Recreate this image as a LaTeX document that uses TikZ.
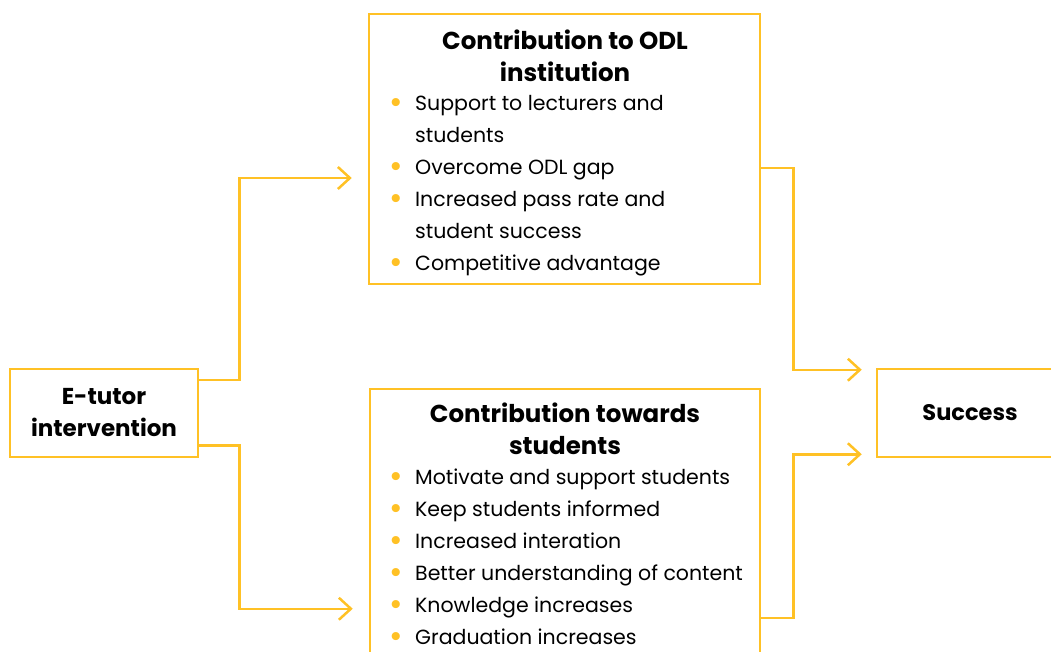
\documentclass[tikz,border=0pt]{standalone}
\usepackage{fontspec}
\setmainfont{Poppins}
\usetikzlibrary{arrows.meta}
\definecolor{gold}{RGB}{255,193,37}
\newcommand{\bul}{\makebox[26pt][l]{\raisebox{-2.5pt}{\textcolor{gold}{\scalebox{1.6}{\textbullet}}}}}
\newcommand{\ind}{\hspace*{26pt}}

\begin{document}
\begin{tikzpicture}[x=1pt,y=-1pt,
  box/.style={draw=gold,line width=2.5pt,inner sep=0pt},
  head/.style={font=\fontsize{23}{32}\selectfont\bfseries,align=center,inner sep=0pt},
  items/.style={font=\fontsize{20.5}{32}\selectfont,align=left,anchor=west,inner sep=0pt},
  link/.style={gold,line width=2.5pt,-{Straight Barb[length=12pt,width=22pt]}}]
\useasboundingbox (0,0) rectangle (1051,652);

% boxes
\node [box,minimum width=188pt,minimum height=88pt,head,align=center] (etutor) at (104,413) {E-tutor\\intervention};
\node [box,minimum width=391pt,minimum height=270pt] (odl) at (564.5,149) {};
\node [box,minimum width=390pt,minimum height=283pt] (stud) at (565,530.5) {};
\node [box,minimum width=186pt,minimum height=88pt,head,font=\fontsize{22.5}{32}\selectfont\bfseries] (success) at (970,413) {Success};

% texts in the two middle boxes
\node [head,font=\fontsize{24.5}{32}\selectfont\bfseries] (odltitle) at (565,56) {Contribution to ODL\\institution};
\node [items] (odllist) at (389,186) {\bul Support to lecturers and\\ \ind students\\ \bul Overcome ODL gap\\ \bul Increased pass rate and\\ \ind student success\\ \bul Competitive advantage};
\node [head,font=\fontsize{24.5}{32}\selectfont\bfseries] (studtitle) at (565,429) {Contribution towards\\students};
\node [items] (studlist) at (389,558) {\bul Motivate and support students\\ \bul Keep students informed\\ \bul Increased interation\\ \bul Better understanding of content\\ \bul Knowledge increases\\ \bul Graduation increases};

% connectors
\draw [link,shorten >=16pt] ([yshift=-12pt]etutor.north east) -- ++(40,0) |- ([yshift=-29pt]odl.west);
\draw [link,shorten >=16pt] ([yshift=13pt]etutor.south east) -- ++(40,0) |- ([yshift=-221pt]stud.north west);
\draw [link,shorten >=14pt] ([yshift=-19pt]odl.east) -- ++(32,0) |- ([yshift=-2pt]success.north west);
\draw [link,shorten >=14pt] ([yshift=-230pt]stud.north east) -- ++(32,0) |- ([yshift=4pt]success.south west);
\end{tikzpicture}
\end{document}
